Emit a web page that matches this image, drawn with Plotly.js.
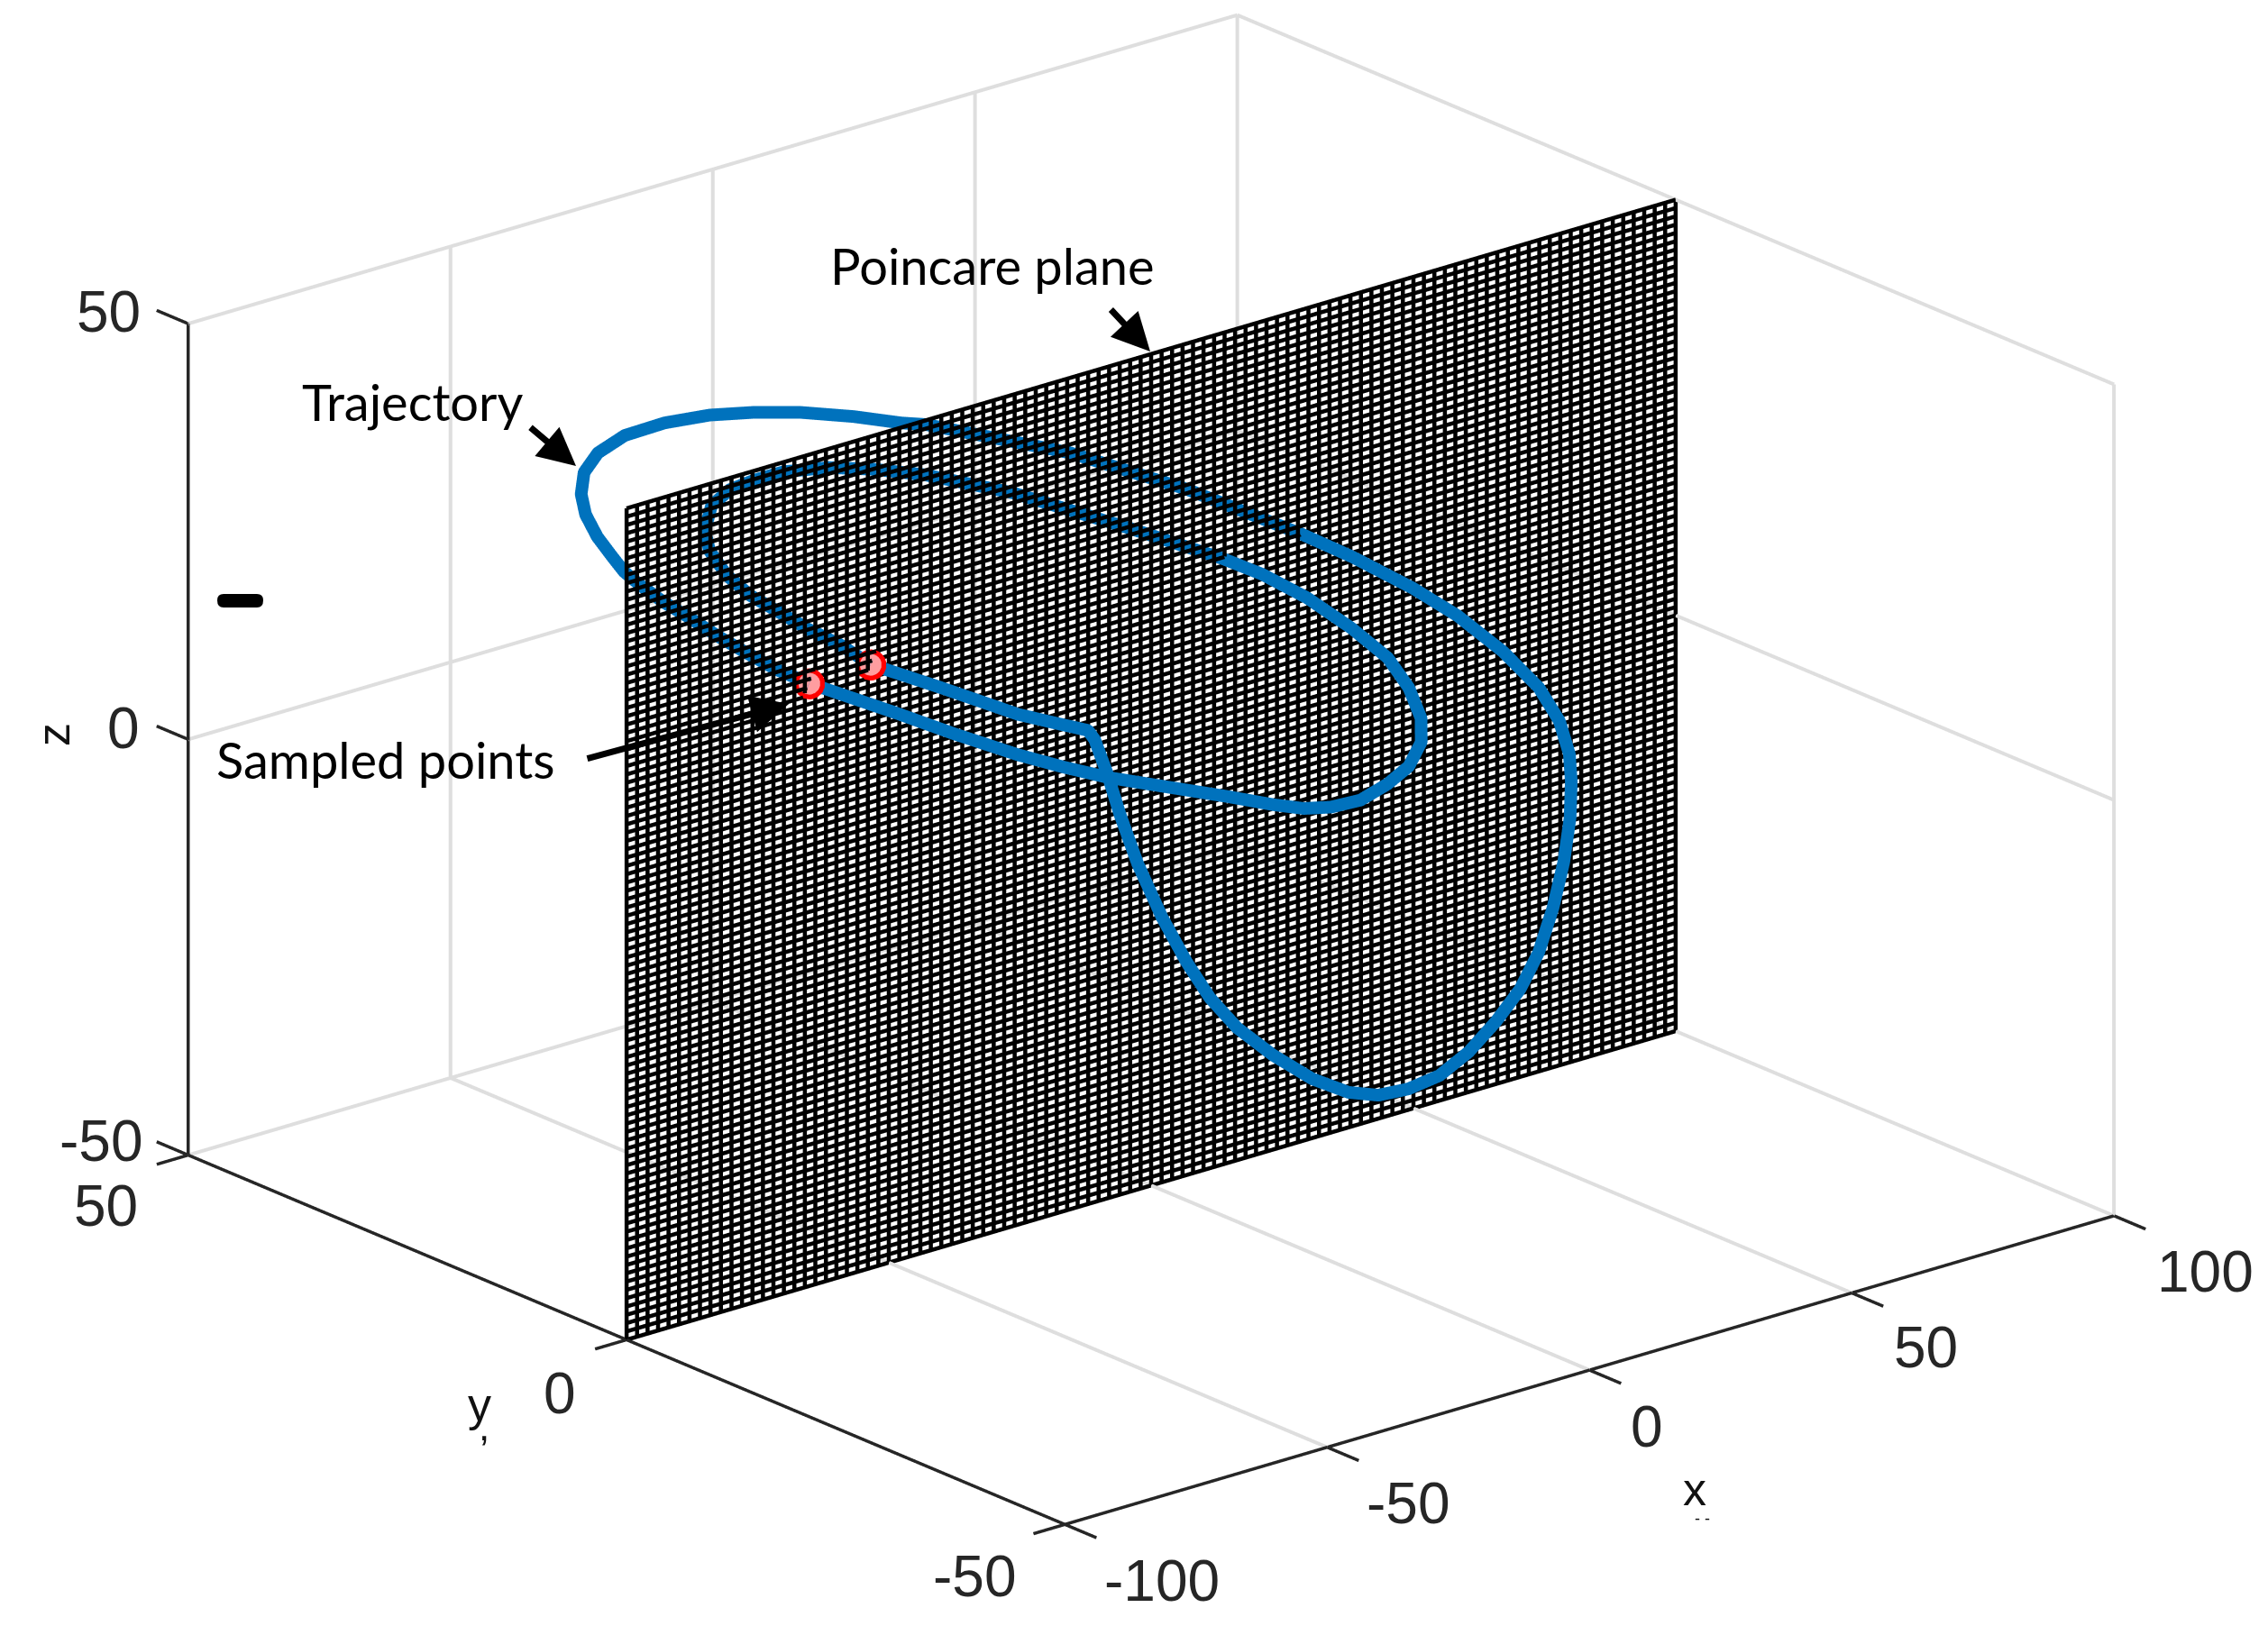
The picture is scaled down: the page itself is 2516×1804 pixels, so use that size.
<!DOCTYPE html>
<html><head><meta charset="utf-8">
<script src="https://cdn.plot.ly/plotly-3.0.1.min.js"></script>
<style>html,body{margin:0;padding:0;background:#fff}#g{width:2516px;height:1804px}</style>
</head><body><div id="g"></div>
<script>
const trajX=[-53.5,-45.4,-35.4,-29.7,-25.4,-25.8,-26.6,-26,-26,-23,-20,-17.2,-13.7,-9.4,-2.7,4.2,9.9,15.6,21.5,27.1,32.3,38.6,43.8,48.2,51.9,54.8,56.7,58,58.6,57.2,53.7,48.4,43.2,35,28.5,16.7,4.7,-9.5,-12.5,-16.6,-23.5,-28.8,-35.7,-42.6,-50.2,-57,-61.3,-65.2,-67.7,-68.8,-69.2,-70.4,-70.8,-71.2,-70.1,-69.3,-67.4,-66.3,-65.2,-53.6,-46,-37.1,-30.2,-23.3,-14.2,-5.4,1.5,5.7,10.9,16.5,22.5,27.4,30.6,31.4,32.4,30.9,27.4,23,17.8,13.8,2.3,-13.1,-26.3,-36.1,-44.7,-53.3,-59.8,-65.3,-69.6,-71.7,-72.5,-70.9,-68.1,-64.6,-60.4,-55.9,-53.5];
const trajY=[0,-3,-6,-7,-8,-9,-11,-12,-14,-15,-16,-17,-18,-19.5,-20,-20,-20,-20,-20,-20,-20,-19,-18,-17,-16,-15,-14,-13,-11.5,-10,-8,-6,-4,-2,0,6,12,20,21,24,26,28,29,30,30,29,28,26,24,22,20,18,16,13,11,8,6,3,0,-3,-5,-7,-8,-9,-10.5,-12,-13,-14,-14,-14,-13.5,-13,-12.5,-12,-10,-8.5,-6.5,-4,-2,0,4,8,10,10,10,10,9.5,9,8.5,8,7,6,5,4,3,2,0];
const trajZ=[22.6,19.7,15.9,14.2,13,12.4,9.1,4.8,-0.2,-6.8,-12.3,-16.7,-20.5,-23.9,-27.8,-30.7,-32.1,-32.4,-31.9,-30.1,-27.4,-25.1,-22.1,-18,-13.7,-9.3,-5.7,-3.1,0.1,3.7,7.8,12.2,15.6,20,23.1,28,31.9,34.4,34.7,34.9,35.8,35.9,36.4,36.3,36.2,35.8,34.7,33.7,32.6,31,29.5,28.9,28.3,27.6,26.6,25.4,24,23,22.5,18.1,15.1,11.8,9.5,7.4,5.2,3.1,1.3,0.5,-0.3,-0.5,0.1,1.1,3.2,5.7,8.3,11.5,14.8,18.2,21.1,22.8,26.9,32.2,35.9,38.4,40.2,41.3,41.7,41.8,40.9,38.6,36.7,33.9,31.4,29.3,26.8,24.5,22.6];
const sampledX=[-53.5,-65.2], sampledY=[0,0], sampledZ=[22.6,22.5];
const xTicks=[-100,-50,0,50,100], yTicks=[-50,0,50], zTicks=[-50,0,50];
const planeStepX=2, planeStepZ=1, planeY=0;

function segs(list){const a=[[],[],[]];list.forEach(s=>{a[0].push(s[0],s[3],null);a[1].push(s[1],s[4],null);a[2].push(s[2],s[5],null);});return a;}
const planeSegs=[];
for(let x=-100;x<=100;x+=planeStepX)planeSegs.push([x,planeY,-50,x,planeY,50]);
for(let z=-50;z<=50;z+=planeStepZ)planeSegs.push([-100,planeY,z,100,planeY,z]);
const gridSegs=[];
xTicks.forEach(x=>{if(x>-100)gridSegs.push([x,50,-50,x,50,50],[x,-50,-50,x,50,-50]);});
yTicks.forEach(y=>{if(y!==planeY){gridSegs.push([100,y,-50,100,y,50]);if(y>-50)gridSegs.push([-100,y,-50,100,y,-50]);}});
zTicks.forEach(z=>{gridSegs.push([-100,50,z,100,50,z],[100,-50,z,100,50,z]);});
const axisSegs=[[-100,-50,-50,100,-50,-50],[-100,-50,-50,-100,50,-50],[-100,50,-50,-100,50,50]];
xTicks.forEach(x=>axisSegs.push([x,-50,-50,x,-53.6,-50]));
yTicks.forEach(y=>axisSegs.push([-100,y,-50,-106,y,-50]));
zTicks.forEach(z=>axisSegs.push([-100,50,z,-100,53.6,z]));

const W=2516,H=1804;
const px=x=>x/W, py=y=>1-y/H;
const tf={family:'"Liberation Sans",Arial,sans-serif',size:64,color:'#262626'};
function ax(r,t){return {range:r,tickvals:t,ticktext:t.map(String),autorange:false,showbackground:false,showgrid:false,showline:false,ticks:'',showticklabels:false,zeroline:false,showspikes:false,title:{text:''}};}
const lab={family:'Lato,"Open Sans",sans-serif',size:56,color:'#000'};
const tit={family:'"Liberation Sans",sans-serif',size:52,color:'#111'};
function txt(t,x,y,extra){return Object.assign({text:t,x:px(x),y:py(y),xref:'paper',yref:'paper',showarrow:false,font:lab,xanchor:'center',yanchor:'middle'},extra||{});}
function arrow(x0,y0,x1,y1){return {text:'',x:px(x1),y:py(y1),xref:'paper',yref:'paper',axref:'pixel',ayref:'pixel',ax:x0-x1,ay:y0-y1,showarrow:true,arrowhead:2,arrowsize:1.2,arrowwidth:7,arrowcolor:'#000'};}
function tick(x,y,z,t,dx,dy){return {x:x,y:y,z:z,text:String(t),showarrow:false,font:tf,xanchor:'center',yanchor:'middle',xshift:dx*1.6046,yshift:-dy*1.6046};}
const xs=[[67,39],[56,39],[40,39],[51,38],[63,39]], ys=[[-62,36],[-46,37],[-57,35]], zs=[[-60,-10],[-45,-8],[-55,-8]];
const sceneAnn=[
 ...xTicks.map((v,i)=>tick(v,-50,-50,v,xs[i][0],xs[i][1])),
 ...yTicks.map((v,i)=>tick(-100,v,-50,v,ys[i][0],ys[i][1])),
 ...zTicks.map((v,i)=>tick(-100,50,v,v,zs[i][0],zs[i][1]))
];
function lineTrace(list,color,width){const a=segs(list);return {type:'scatter3d',mode:'lines',x:a[0],y:a[1],z:a[2],line:{color:color,width:width},hoverinfo:'skip',connectgaps:false};}
const data=[
 lineTrace(gridSegs,'#dedede',8),
 lineTrace(axisSegs,'#262626',7),
 lineTrace(planeSegs,'#000',9),
 {type:'scatter3d',mode:'lines',x:trajX,y:trajY,z:trajZ,line:{color:'#0072BD',width:28},hoverinfo:'skip'},
 {type:'scatter3d',mode:'markers',x:sampledX,y:sampledY,z:sampledZ,marker:{size:20,color:'#ff0000'},hoverinfo:'skip'},
 {type:'scatter3d',mode:'markers',x:sampledX,y:sampledY,z:sampledZ,marker:{size:14,color:'#ff9da0'},hoverinfo:'skip'}
];
const r=7,bx0=241,bx1=292,by0=659,by1=674;
const barPath='M'+px(bx0+r)+','+py(by0)+' L'+px(bx1-r)+','+py(by0)+' Q'+px(bx1)+','+py(by0)+' '+px(bx1)+','+py(by0+r)+' Q'+px(bx1)+','+py(by1)+' '+px(bx1-r)+','+py(by1)+' L'+px(bx0+r)+','+py(by1)+' Q'+px(bx0)+','+py(by1)+' '+px(bx0)+','+py(by0+r)+' Q'+px(bx0)+','+py(by0)+' '+px(bx0+r)+','+py(by0)+' Z';
const layout={width:W,height:H,margin:{l:0,r:0,t:0,b:0},paper_bgcolor:'#fff',showlegend:false,
 scene:{domain:{x:[0.0151,1],y:[0.0532,1]},aspectmode:'manual',aspectratio:{x:1.9536,y:1.9536,z:1.2694},
  camera:{projection:{type:'orthographic'},eye:{x:-1.8,y:-2.154,z:1.056},up:{x:0,y:0,z:1},center:{x:0,y:0,z:0}},
  xaxis:ax([-110,110],xTicks),yaxis:ax([-55,55],yTicks),zaxis:ax([-55,55],zTicks),annotations:sceneAnn},
 shapes:[{type:'path',xref:'paper',yref:'paper',path:barPath,fillcolor:'#000',line:{width:0}}],
 annotations:[
  txt('Poincare plane',1101,294),txt('Trajectory',457,446),txt('Sampled points',428,842),
  arrow(1231,342,1276,390),arrow(587,473,639,517),arrow(650,842,875,781),
  txt('x',1880,1652,{font:tit}),
  txt('- -',1889,1685,{font:{family:'"Liberation Sans",sans-serif',size:18,color:'#111'}}),
  txt('y',532,1558,{font:tit}),
  txt(',',537,1582,{font:{family:'"Liberation Sans",sans-serif',size:44,color:'#111'}}),
  txt('z',59,815,{font:tit,textangle:-90})
 ]};
Plotly.newPlot('g',data,layout,{displayModeBar:false});
</script></body></html>
